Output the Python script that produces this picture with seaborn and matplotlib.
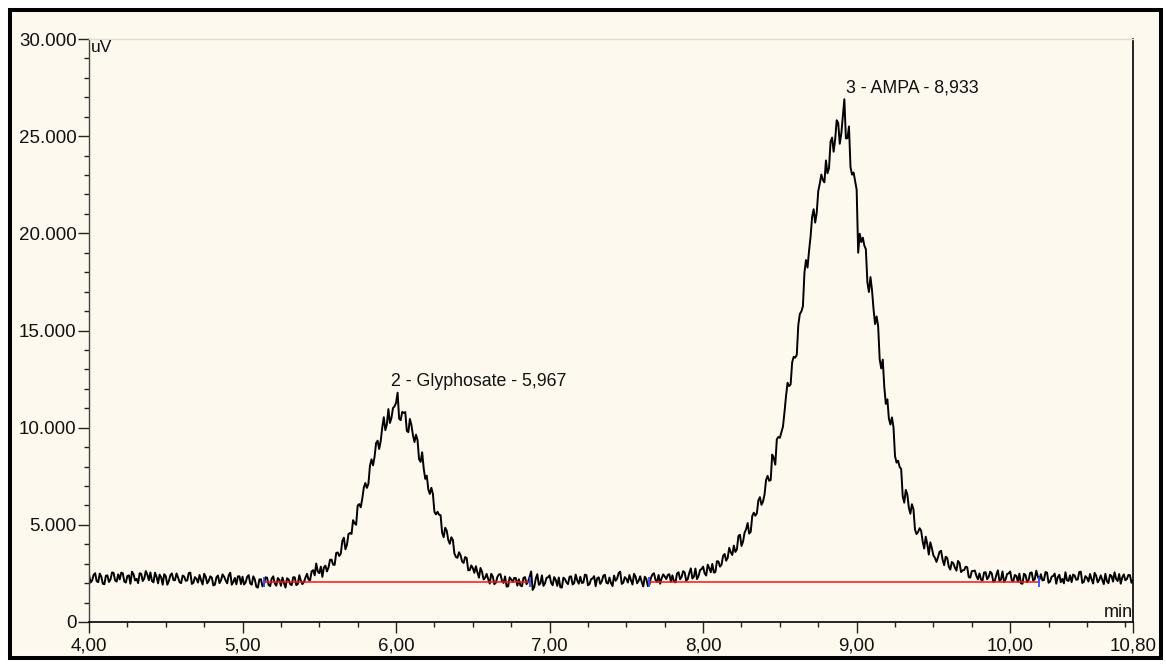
import numpy as np
import pandas as pd
import matplotlib
matplotlib.use("Agg")
import matplotlib.pyplot as plt
from matplotlib.patches import Rectangle
from matplotlib.ticker import MultipleLocator, FuncFormatter
import seaborn as sns

# Detector trace (uV), sampled every 0.01 min from 4.00 to 10.80 min (20 samples per row)
signal_uv = [
    2430, 2030, 2130, 2420, 2510, 2100, 2050, 2490, 2340, 1970, 1940, 2380, 2400, 2060, 2190, 2550, 2530, 2140, 2080, 2450,
    2190, 2540, 2510, 2080, 2030, 2370, 2400, 1970, 2590, 2460, 2140, 2220, 2000, 2510, 2480, 2110, 2240, 2620, 2440, 2150,
    2550, 2110, 2040, 2540, 2320, 1990, 2440, 2300, 1920, 2460, 2360, 1920, 2100, 2410, 2500, 2160, 2150, 2500, 2290, 2050,
    2000, 2390, 2340, 2120, 2140, 2520, 2540, 1960, 2020, 2310, 2220, 2030, 2420, 2150, 1930, 2480, 2330, 1990, 2120, 2350,
    2280, 1880, 1920, 2300, 2390, 2000, 2150, 2450, 2330, 2140, 1990, 2400, 2540, 1920, 2060, 2270, 1940, 2350, 2350, 1950,
    2330, 1930, 2030, 2320, 2410, 1985, 1920, 2350, 2190, 1810, 1770, 2195, 2200, 1835, 1940, 2300, 2280, 1900, 1850, 2230,
    2350, 1980, 1870, 2260, 2170, 1860, 2290, 2010, 1770, 2250, 2190, 1950, 1900, 2300, 2300, 1900, 1950, 2410, 2120, 1950,
    2060, 2290, 2480, 2180, 2150, 2600, 2670, 2400, 3010, 2600, 2510, 2850, 2320, 2810, 2900, 2600, 2810, 3200, 3210, 2950,
    2940, 3550, 3580, 3400, 3520, 4165, 4340, 3740, 3970, 4520, 4580, 4530, 5240, 5085, 5000, 5990, 6070, 5900, 6350, 6920,
    7150, 6900, 7110, 8045, 8370, 8060, 8500, 9210, 9330, 8900, 9310, 10010, 10540, 9870, 10170, 10955, 10240, 10500, 11010, 11095,
    11280, 11800, 10460, 10390, 10810, 10760, 10800, 9840, 9770, 10450, 10130, 9615, 9260, 9640, 9350, 8370, 8240, 8735, 7910, 7365,
    7530, 6830, 6590, 6905, 6590, 5660, 5540, 5670, 5520, 5495, 4600, 4365, 4850, 4700, 4220, 4025, 4360, 4225, 3530, 3345,
    3300, 3590, 3440, 3120, 3040, 3345, 3290, 2660, 2670, 2910, 2770, 2530, 2870, 2550, 2280, 2780, 2580, 2190, 2270, 2475,
    2210, 1975, 2480, 2345, 1950, 2020, 2320, 2445, 2460, 2110, 2010, 2345, 1820, 1840, 2300, 2190, 2060, 2270, 2260, 1870,
    2200, 1880, 1840, 2270, 2310, 1950, 2070, 2340, 2600, 1650, 1790, 2230, 2460, 1910, 1980, 2400, 1860, 1990, 2270, 2300,
    2400, 2020, 1890, 2310, 2170, 1860, 2290, 1790, 1770, 2280, 2210, 2040, 1950, 2330, 2350, 1930, 2000, 2440, 2140, 1970,
    2330, 2010, 2030, 2440, 2410, 1890, 1950, 2200, 2240, 2360, 1840, 2250, 2300, 1960, 2090, 2380, 2430, 2020, 1980, 2290,
    2000, 1850, 2390, 2120, 2240, 2520, 2590, 1960, 2020, 2310, 2220, 2030, 2420, 2150, 1930, 2480, 2330, 1990, 2120, 2350,
    2060, 1830, 2330, 2220, 1850, 1920, 2270, 2445, 2510, 2160, 2060, 2420, 1970, 2250, 2450, 2340, 2210, 2420, 2460, 2070,
    2400, 2080, 2040, 2495, 2560, 2200, 2320, 2615, 2550, 2120, 2210, 2530, 2760, 2235, 2330, 2750, 2210, 2365, 2670, 2725,
    2850, 2500, 2390, 2950, 2770, 2560, 2990, 2540, 2570, 3130, 3110, 2850, 2950, 3405, 3500, 3155, 3300, 3815, 3590, 3450,
    3930, 3605, 3740, 4430, 4490, 3910, 4140, 4595, 4770, 5095, 4550, 4640, 5450, 5625, 5470, 5600, 6260, 6425, 6030, 6195,
    6560, 7305, 7520, 7265, 7300, 8615, 8440, 8095, 9400, 9520, 9480, 9760, 10050, 10800, 11620, 12310, 12140, 12230, 13360, 13650,
    13600, 13750, 15280, 15850, 15980, 16250, 17980, 18625, 18240, 19100, 19840, 20850, 21240, 20550, 21060, 22175, 22560, 23025, 22740, 22625,
    23750, 23090, 23350, 24710, 24930, 24200, 24830, 25820, 25680, 24610, 25130, 26040, 26900, 24880, 24900, 25500, 23400, 23020, 23130, 22700,
    22250, 19000, 19980, 19550, 19780, 19375, 19180, 17475, 16980, 17750, 17080, 16100, 15330, 15725, 15230, 13525, 13050, 13500, 12100, 11225,
    11460, 10470, 10160, 10530, 10020, 8530, 8200, 8300, 7980, 7870, 6480, 6140, 6800, 6570, 5880, 5570, 6060, 5800, 4760, 4525,
    4630, 4825, 4700, 4150, 3780, 4390, 4010, 3465, 4100, 3795, 3420, 3305, 3090, 3335, 3610, 3665, 3200, 2925, 3360, 3295,
    2850, 2700, 3090, 3020, 2790, 2645, 3140, 3045, 2570, 2660, 2670, 2845, 2820, 2315, 2280, 2615, 2630, 2645, 2370, 2195,
    2500, 2180, 2140, 2545, 2560, 2200, 2320, 2590, 2500, 2070, 2110, 2430, 2660, 2110, 2180, 2600, 2060, 2190, 2470, 2500,
    2600, 2150, 2090, 2420, 2370, 2080, 2490, 1990, 1970, 2480, 2410, 2050, 2150, 2530, 2550, 2130, 2200, 2640, 2340, 2170,
    2460, 2140, 2160, 2570, 2540, 2020, 2080, 2330, 2370, 2490, 1970, 2300, 2430, 2050, 2220, 1990, 2560, 2150, 2110, 2400,
    2050, 2440, 2390, 2170, 2190, 2570, 2590, 2010, 2070, 2360, 2270, 2080, 2470, 2200, 1980, 2530, 2380, 2040, 2170, 2400,
    2160, 1950, 2480, 2100, 2000, 2430, 2370, 2080, 2560, 2210, 2110, 2470, 1970, 2290, 2450, 2150, 2210, 2420, 2410, 2020,
    2150,
]
run_start_min = 4.0
run_end_min = 10.8

# Integrated peaks
peak_numbers = [2, 3]
peak_names = ["Glyphosate", "AMPA"]
peak_rt_min = [5.967, 8.933]

# Integration baselines: start/end time (min) and level (uV)
baseline_start_min = [5.14, 7.65]
baseline_end_min = [6.87, 10.19]
baseline_level_uv = [2050, 2070]

# Tick labels
x_major_ticks = [4.0, 5.0, 6.0, 7.0, 8.0, 9.0, 10.0, 10.8]
y_major_ticks = [0, 5000, 10000, 15000, 20000, 25000, 30000]

sns.set_theme(style="ticks")
plt.rcParams["font.family"] = ["Liberation Sans", "DejaVu Sans"]

W, H = 1166, 664
BG = "#fdf9ee"
fig = plt.figure(figsize=(W / 100, H / 100), dpi=100, facecolor="white")

# Panel background with heavy black frame
frame = Rectangle((10 / W, 6 / H), 1151 / W, 648 / H,
                  transform=fig.transFigure, facecolor=BG,
                  edgecolor="black", linewidth=2.9, zorder=-10)
fig.patches.append(frame)

ax = fig.add_axes([89 / W, 1 - 622 / H, (1133 - 89) / W, (622 - 39) / H])
ax.set_zorder(5)
ax.set_facecolor(BG)

trace = pd.DataFrame({
    "time": np.linspace(run_start_min, run_end_min, len(signal_uv)),
    "uV": signal_uv,
})
sns.lineplot(data=trace, x="time", y="uV", ax=ax, color="black",
             linewidth=1.4, estimator=None, sort=False, zorder=2)

# Integration baselines and event markers
for t0, t1, lvl in zip(baseline_start_min, baseline_end_min, baseline_level_uv):
    ax.plot([t0, t1], [lvl, lvl], color="#ff1010", linewidth=1.1, zorder=3)
    ax.vlines([t0, t1], lvl - 250, lvl + 250, color="#3050ff", linewidth=1.3, zorder=3)

# Peak labels
label_y = [12150, 27270]
for num, name, rt, ly in zip(peak_numbers, peak_names, peak_rt_min, label_y):
    rt_txt = f"{rt:.3f}".replace(".", ",")
    ax.text(rt, ly, f"{num} - {name} - {rt_txt}", ha="left", va="baseline",
            fontsize=12.8, color="#111111", zorder=4)

ax.set_xlim(run_start_min, run_end_min)
ax.set_ylim(0, 30000)
ax.set_xticks(x_major_ticks)
ax.set_yticks(y_major_ticks)
ax.xaxis.set_minor_locator(MultipleLocator(0.25))
ax.yaxis.set_minor_locator(MultipleLocator(1000))
ax.xaxis.set_major_formatter(FuncFormatter(lambda v, p: f"{v:.2f}".replace(".", ",")))
ax.yaxis.set_major_formatter(FuncFormatter(lambda v, p: f"{int(round(v)):,}".replace(",", ".")))
ax.set_xlabel("")
ax.set_ylabel("")

ax.tick_params(axis="both", which="major", direction="out", length=8, width=1,
               color="#222222", labelsize=13.5, labelcolor="#111111")
ax.tick_params(axis="both", which="minor", direction="out", length=3.5, width=1,
               color="#222222")
ax.tick_params(axis="y", which="major", pad=1)
ax.tick_params(axis="x", which="major", pad=3)

for side in ["left", "bottom", "right", "top"]:
    ax.spines[side].set_visible(True)
ax.spines["top"].set_color("#e0dccf")
ax.spines["top"].set_linewidth(1)
ax.spines["left"].set_color("#444444")
ax.spines["left"].set_linewidth(1)
ax.spines["bottom"].set_color("black")
ax.spines["bottom"].set_linewidth(1.2)
ax.spines["right"].set_color("black")
ax.spines["right"].set_linewidth(1.2)

# Unit captions inside the plot area
ax.text(run_start_min + 0.01, 29950, "uV", ha="left", va="top", fontsize=12.5, color="#111111")
ax.text(run_end_min, 260, "min", ha="right", va="baseline", fontsize=13, color="#111111")

fig.savefig("out.png", dpi=100, facecolor="white")
